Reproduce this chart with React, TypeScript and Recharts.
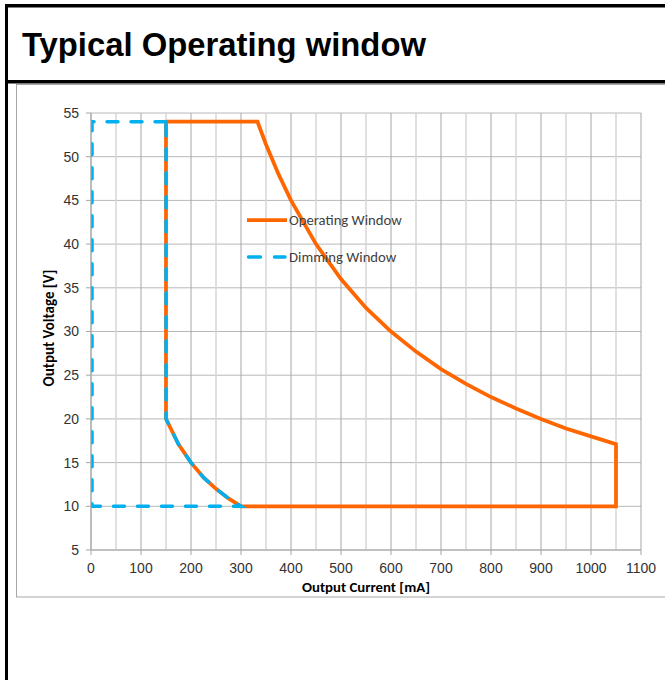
import React from 'react';
import { LineChart, Line, XAxis, YAxis, ReferenceLine, CartesianGrid, Legend } from 'recharts';

const xTicks = [0, 100, 200, 300, 400, 500, 600, 700, 800, 900, 1000, 1100];
const xMinorGrid = [50, 150, 250, 350, 450, 550, 650, 750, 850, 950, 1050];
const yTicks = [5, 10, 15, 20, 25, 30, 35, 40, 45, 50, 55];

const operatingCurrent = [150, 333, 350, 375, 400, 450, 500, 550, 600, 650, 700, 750, 800, 850, 900, 950, 1000, 1050, 1050, 300, 275, 250, 225, 200, 175, 150, 150];
const operatingVoltage = [54, 54, 51.4, 48, 45, 40, 36, 32.7, 30, 27.7, 25.7, 24, 22.5, 21.2, 20, 18.9, 18, 17.1, 10, 10, 10.9, 12, 13.3, 15, 17.1, 20, 54];

const dimmingCurrent = [150, 2, 2, 300, 275, 250, 225, 200, 175, 150, 150];
const dimmingVoltage = [54, 54, 10, 10, 10.9, 12, 13.3, 15, 17.1, 20, 54];

const seriesNames = ['Operating Window', 'Dimming Window'];
const seriesColors = ['#FF6600', '#00B0F0'];

const operatingData = operatingCurrent.map((x, i) => ({ x, y: operatingVoltage[i] }));
const dimmingData = dimmingCurrent.map((x, i) => ({ x, y: dimmingVoltage[i] }));

const tickFont = { fontFamily: '"Liberation Sans", Arial, sans-serif', fontSize: 14, fill: '#333' };
const calibri = 'Carlito, Calibri, "Open Sans", sans-serif';

const LegendContent = () => (
  <div style={{ position: 'relative', width: 200, height: 70 }}>
    {seriesNames.map((name, i) => (
      <div
        key={name}
        style={{ position: 'absolute', left: 0, top: i * 36.5, height: 20, display: 'flex', alignItems: 'center' }}
      >
        <svg width={44} height={20} style={{ display: 'block' }}>
          {i === 0 ? (
            <line x1={1} y1={10} x2={41} y2={10} stroke={seriesColors[0]} strokeWidth={3.75} />
          ) : (
            <line x1={2.5} y1={10} x2={39} y2={10} stroke={seriesColors[1]} strokeWidth={3.5} strokeDasharray="12 14" strokeLinecap="round" />
          )}
        </svg>
        <span style={{ fontFamily: calibri, fontSize: 14.7, color: '#404040', marginLeft: -1, whiteSpace: 'nowrap', lineHeight: '20px' }}>{name}</span>
      </div>
    ))}
  </div>
);

export default function App() {
  return (
    <div style={{ position: 'absolute', left: 0, top: 0, width: 665, height: 680, background: '#fff', overflow: 'hidden' }}>
      <svg width={665} height={680} style={{ position: 'absolute', left: 0, top: 0 }}>
        <rect x={5} y={4} width={660} height={3.5} fill="#000" />
        <rect x={5} y={4} width={3} height={676} fill="#000" />
        <rect x={5} y={80} width={660} height={3.5} fill="#000" />
        <rect x={16.5} y={84.5} width={700} height={512.5} fill="none" stroke="#a6a6a6" strokeWidth={1} />
        <text x={22} y={56} fontFamily='"Liberation Sans", Arial, sans-serif' fontWeight="bold" fontSize={32.8} fill="#000">
          Typical Operating window
        </text>
      </svg>
      <div style={{ position: 'absolute', left: 0, top: 0 }}>
        <LineChart width={665} height={600} margin={{ top: 113, right: 24, bottom: 20, left: 51 }}>
          <CartesianGrid horizontal vertical={false} stroke="#b8b8b8" strokeWidth={1} />
          {xMinorGrid.map((v) => (
            <ReferenceLine key={'m' + v} x={v} stroke="#d6d6d6" strokeWidth={1.5} ifOverflow="visible" />
          ))}
          {xTicks.map((v) => (
            <ReferenceLine key={'M' + v} x={v} stroke="#a6a6a6" strokeWidth={1} ifOverflow="visible" />
          ))}
          <XAxis
            dataKey="x"
            type="number"
            domain={[0, 1100]}
            ticks={xTicks}
            interval={0}
            allowDataOverflow
            height={30}
            tickSize={5}
            tickMargin={8}
            axisLine={{ stroke: '#a6a6a6' }}
            tickLine={{ stroke: '#a6a6a6' }}
            tick={tickFont}
          />
          <YAxis
            dataKey="y"
            type="number"
            domain={[5, 55]}
            ticks={yTicks}
            interval={0}
            allowDataOverflow
            width={40}
            tickSize={5}
            tickMargin={7}
            axisLine={{ stroke: '#a6a6a6' }}
            tickLine={{ stroke: '#a6a6a6' }}
            tick={tickFont}
          />
          <Line
            data={operatingData}
            dataKey="y"
            name={seriesNames[0]}
            type="linear"
            stroke={seriesColors[0]}
            strokeWidth={3.75}
            dot={false}
            activeDot={false}
            isAnimationActive={false}
          />
          <Line
            data={dimmingData}
            dataKey="y"
            name={seriesNames[1]}
            type="linear"
            stroke={seriesColors[1]}
            strokeWidth={3.5}
            strokeDasharray="11 13"
            strokeLinecap="round"
            dot={false}
            activeDot={false}
            isAnimationActive={false}
          />
          <Legend
            layout="vertical"
            align="center"
            verticalAlign="middle"
            content={<LegendContent />}
            wrapperStyle={{ position: 'absolute', left: 246, top: 210, width: 200, height: 70 }}
          />
        </LineChart>
      </div>
      <div
        style={{
          position: 'absolute',
          left: 266,
          top: 578,
          width: 200,
          textAlign: 'center',
          fontFamily: calibri,
          fontWeight: 'bold',
          fontSize: 14.8,
          color: '#000',
          lineHeight: '18px',
        }}
      >
        Output Current [mA]
      </div>
      <div
        style={{
          position: 'absolute',
          left: 49 - 100,
          top: 328 - 9,
          width: 200,
          textAlign: 'center',
          fontFamily: calibri,
          fontWeight: 'bold',
          fontSize: 15,
          color: '#000',
          lineHeight: '18px',
          transform: 'rotate(-90deg)',
          transformOrigin: '100px 9px',
        }}
      >
        Output Voltage [V]
      </div>
    </div>
  );
}
